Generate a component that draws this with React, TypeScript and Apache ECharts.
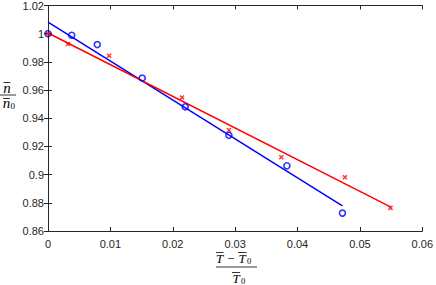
import React, { useEffect, useRef } from "react";
import * as echarts from "echarts";

const blueX = [0, 0.0038, 0.0079, 0.0151, 0.022, 0.029, 0.0383, 0.0472];
const blueY = [1.0, 0.9989, 0.9923, 0.9685, 0.9481, 0.9279, 0.9063, 0.8727];
const redX = [0, 0.0032, 0.0098, 0.0215, 0.029, 0.0374, 0.0476, 0.0549];
const redY = [1.0, 0.9927, 0.9843, 0.9547, 0.9317, 0.9123, 0.8982, 0.8764];
const blueFitX = [0, 0.0472];
const blueFitY = [1.0082, 0.8778];
const redFitX = [0, 0.0549];
const redFitY = [1.0005, 0.8771];

const xMin = 0, xMax = 0.06, xStep = 0.01;
const yMin = 0.86, yMax = 1.02, yStep = 0.02;

const AX = "#262626";
const fmt = (v: number) => String(Number(v.toFixed(3)));

const zip = (a: number[], b: number[]) => a.map((v, i) => [v, b[i]]);

const serif = '"Liberation Serif", "DejaVu Serif", serif';

function txt(text: string, x: number, y: number, size: number, italic = true) {
  return {
    type: "text",
    style: {
      text,
      x,
      y,
      align: "center",
      verticalAlign: "middle",
      font: `${italic ? "italic " : ""}${size}px ${serif}`,
      fill: "#000",
    },
  };
}
function ln(x1: number, y1: number, x2: number, y2: number) {
  return {
    type: "line",
    shape: { x1, y1, x2, y2 },
    style: { stroke: "#000", lineWidth: 0.8 },
  };
}

export default function App() {
  const ref = useRef<HTMLDivElement>(null);
  useEffect(() => {
    const chart = echarts.init(ref.current!, null, { renderer: "svg" });
    const axisCommon = {
      type: "value",
      axisLine: { show: true, lineStyle: { color: AX, width: 1 } },
      axisTick: { show: true, inside: true, length: 4, lineStyle: { color: AX, width: 1 } },
      splitLine: { show: false },
    };
    const xCommon = { ...axisCommon, min: xMin, max: xMax, interval: xStep };
    const yCommon = { ...axisCommon, min: yMin, max: yMax, interval: yStep };
    const x_cross = "path://M0,0L10,10M10,0L0,10";
    chart.setOption({
      animation: false,
      backgroundColor: "#fff",
      grid: { left: 48, right: 12, top: 4, bottom: 54 },
      xAxis: [
        {
          ...xCommon,
          position: "bottom",
          axisLabel: {
            color: AX,
            fontSize: 11,
            fontFamily: '"Liberation Sans", Arial, sans-serif',
            margin: 7,
            formatter: fmt,
          },
        },
        { ...xCommon, position: "top", axisLabel: { show: false } },
      ],
      yAxis: [
        {
          ...yCommon,
          position: "left",
          axisLabel: {
            color: AX,
            fontSize: 11,
            fontFamily: '"Liberation Sans", Arial, sans-serif',
            margin: 4,
            formatter: fmt,
          },
        },
        { ...yCommon, position: "right", axisLabel: { show: false } },
      ],
      series: [
        {
          type: "line",
          data: zip(blueFitX, blueFitY),
          showSymbol: false,
          lineStyle: { color: "#0000ff", width: 1.5 },
          z: 2,
        },
        {
          type: "line",
          data: zip(redFitX, redFitY),
          showSymbol: false,
          lineStyle: { color: "#ff0000", width: 1.5 },
          z: 2,
        },
        {
          type: "scatter",
          data: zip(blueX, blueY),
          symbol: "circle",
          symbolSize: 6,
          itemStyle: { color: "rgba(0,0,0,0)", borderColor: "#0000ff", borderWidth: 1.6 },
          z: 3,
        },
        {
          type: "scatter",
          data: zip(redX, redY),
          symbol: x_cross,
          symbolSize: 4,
          itemStyle: { color: "#ff0000", borderColor: "#ff0000", borderWidth: 1.5 },
          z: 4,
        },
      ],
      graphic: [
        // y label: n̄ / n̄0
        txt("n", 7, 88, 15),
        ln(3.5, 82.5, 10.5, 82.5),
        ln(0, 95, 16, 95),
        txt("n", 6.5, 103, 15),
        ln(3, 98.5, 10, 98.5),
        txt("0", 12.8, 106, 9, false),
        // x label: (T̄ − T̄0) / T̄0
        txt("T", 219.5, 258, 13),
        ln(216, 252.5, 223.5, 252.5),
        txt("\u2212", 231, 258, 13, false),
        txt("T", 242, 258, 13),
        ln(238, 252.5, 246.5, 252.5),
        txt("0", 249, 261, 8.5, false),
        ln(216, 267, 257, 267),
        txt("T", 236, 278.5, 13),
        ln(232, 272.5, 240, 272.5),
        txt("0", 243, 280.5, 8.5, false),
      ],
    });
    return () => chart.dispose();
  }, []);
  return (
    <div
      ref={ref}
      style={{ position: "absolute", left: 0, top: 0, width: 436, height: 285 }}
    />
  );
}
